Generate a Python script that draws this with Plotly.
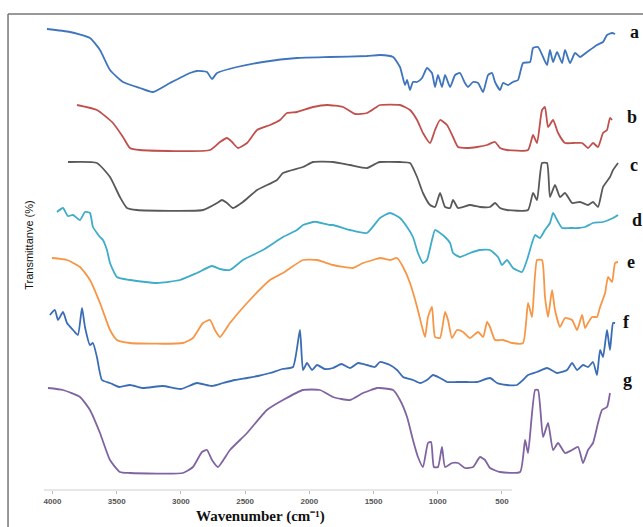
import plotly.graph_objects as go

# Wavenumber (cm^-1) and stacked transmittance (arbitrary units)
a_x = [4043,3864,3708,3630,3552,3451,3319,3217,3085,2929,2875,2797,2758,2719,2563,2361,2096,1839,1551,
       1450,1348,1294,1255,1239,1216,1193,1161,1122,1084,1045,1021,998,967,943,904,865,827,788,764,725,686,647,608,577,554,515,492,453,414,375,336,281,258,219,180,149,126,102,71,32,9,-30,-69,-108,-163,-240,-287,-318,-357,-381]
a_y = [461,458,452,440,420,408,402,398,407,417,419,418,411,417,423,428,432,433,434,
       435,433,423,405,410,400,408,408,412,422,417,403,415,403,415,403,415,417,407,403,408,407,398,415,417,408,400,407,405,408,410,427,428,442,443,433,425,440,428,438,427,440,427,437,433,438,445,448,455,457,456]

b_x = [3809,3654,3529,3451,3397,3319,2773,2696,2641,2602,2555,2485,2407,2306,2228,2174,2096,1971,1862,1738,1644,1551,1488,
       1450,1294,1216,1161,1115,1060,1021,982,928,881,842,772,694,616,554,515,461,297,258,227,188,165,141,102,63,9,-54,-124,-170,-209,-248,-287,-318,-341,-357]
b_y = [385,380,367,353,342,340,340,348,352,348,342,347,360,365,370,377,378,383,385,383,376,377,382,
       385,385,380,370,357,347,360,370,365,353,343,342,343,345,348,342,340,340,355,347,380,383,363,370,357,347,347,347,342,347,343,357,360,372,370]

c_x = [3879,3654,3552,3475,3420,3342,2828,2719,2680,2641,2594,2517,2407,2252,2205,2049,1971,1816,1683,1551,1473,
       1450,1294,1216,1161,1115,1060,1021,982,943,904,881,842,749,671,593,554,515,461,297,258,227,188,149,126,87,48,9,-46,-108,-170,-209,-248,-287,-341,-365,-404]
c_y = [328,327,313,293,282,280,280,287,290,287,282,288,300,310,317,323,328,328,325,322,327,
       328,328,327,313,297,285,283,297,283,282,290,282,285,283,283,287,282,280,280,297,290,327,327,293,305,293,297,287,288,285,288,283,303,313,320,327]

d_x = [3965,3918,3880,3840,3786,3747,3708,3685,3654,3630,3607,3576,3552,3498,3397,3186,3007,2875,2758,2696,2618,2517,2361,2205,2096,2049,1971,1940,1839,1816,1683,1551,
       1450,1372,1294,1239,1193,1154,1115,1084,1045,1021,982,943,904,881,827,749,671,593,531,500,461,414,344,305,266,242,204,165,126,102,71,32,-30,-93,-147,-209,-287,-365,-404]
d_y = [278,282,274,275,270,278,277,263,257,253,250,240,227,213,210,207,210,217,224,221,220,230,240,253,260,265,268,268,265,265,260,257,
       272,277,272,263,253,237,227,230,250,260,257,253,247,237,233,237,240,240,233,225,230,222,218,230,247,255,252,260,267,277,270,262,262,262,263,267,268,272,275]

e_x = [4004,3887,3786,3708,3630,3552,3498,3397,2984,2906,2828,2773,2735,2696,2618,2485,2306,2205,2049,1940,1816,1660,1582,1504,
       1450,1372,1317,1270,1216,1161,1122,1099,1076,1045,1021,982,943,920,889,850,803,749,686,647,616,593,554,492,422,336,297,266,227,188,165,141,110,87,48,9,-46,-85,-124,-147,-170,-202,-240,-264,-303,-326,-357,-381,-404]
e_y = [232,230,223,210,187,160,150,147,147,152,167,170,160,153,167,187,210,217,230,230,225,222,227,230,
       232,230,232,223,207,183,163,153,173,183,153,152,178,170,152,160,158,152,158,153,168,163,150,150,147,147,187,173,230,230,193,173,200,180,163,172,170,160,175,162,167,173,173,183,197,213,208,227,228]

f_x = [4020,3981,3957,3918,3887,3840,3802,3770,3747,3708,3685,3654,3615,3552,3480,3397,3300,3140,3000,2875,2760,2672,2580,2485,2400,2306,2210,2127,2073,2049,2018,1979,1940,1880,1816,1750,1683,1620,1551,1490,
       1450,1372,1317,1270,1193,1138,1084,1037,982,928,850,772,694,593,538,461,383,336,297,227,149,71,-7,-46,-85,-131,-170,-209,-240,-264,-287,-318,-341,-365,-381]
f_y = [175,180,170,178,167,160,155,182,163,145,147,133,110,107,103,105,102,104,101,107,104,107,110,112,114,117,121,123,160,120,127,120,125,121,122,126,122,127,125,123,
       128,125,120,113,110,107,110,115,112,108,108,108,108,112,107,105,105,110,115,118,122,117,120,127,120,125,123,128,115,140,133,160,140,167,167]

g_x = [4035,3918,3786,3708,3630,3552,3475,3397,2984,2906,2836,2797,2758,2711,2618,2485,2330,2205,2049,1917,1816,1683,1582,1473,
       1450,1348,1294,1239,1193,1154,1115,1076,1052,1030,998,967,943,889,842,788,725,671,632,593,515,359,320,297,242,219,180,141,102,63,9,-46,-93,-131,-170,-209,-248,-279,-318,-341]
g_y = [102,100,93,80,57,30,18,17,17,23,38,40,30,23,40,57,80,90,100,100,93,90,97,102,
       102,100,90,73,50,33,23,47,48,23,23,43,23,27,27,22,23,33,30,22,18,18,50,37,100,100,53,67,40,47,37,40,43,27,40,47,67,80,83,97]

series = [
    ("a", a_x, a_y, "#3F75BC"),
    ("b", b_x, b_y, "#C0504D"),
    ("c", c_x, c_y, "#595959"),
    ("d", d_x, d_y, "#3FACC9"),
    ("e", e_x, e_y, "#F79646"),
    ("f", f_x, f_y, "#3A6DB5"),
    ("g", g_x, g_y, "#8064A2"),
]

tick_vals = [4000, 3500, 3000, 2500, 2000, 1500, 1000, 500]
tick_text = [str(v) for v in tick_vals]

fig = go.Figure()
for name, xs, ys, col in series:
    fig.add_trace(go.Scatter(x=xs, y=ys, mode="lines", name=name,
                             line=dict(color=col, width=1.8, shape="spline", smoothing=0.5),
                             hoverinfo="skip"))

# series labels at right end
label_y = [458, 373, 325, 270, 228, 168, 110]
label_x = [-482, -460, -482, -497, -460, -430, -430]
for (name, _, _, _), lx, ly in zip(series, label_x, label_y):
    fig.add_annotation(x=lx, y=ly, xref="x", yref="y", text=name, showarrow=False,
                       font=dict(family="Liberation Serif", size=18, color="#111", weight="bold"),
                       xanchor="left", yanchor="middle")

fig.add_annotation(x=0.369, y=-0.057, xref="paper", yref="paper",
                   text="Wavenumber (cm\u207b\u00b9)", showarrow=False,
                   font=dict(family="Liberation Serif", size=15, color="#111", weight="bold"),
                   xanchor="center", yanchor="middle")
fig.add_annotation(x=-0.027, y=0.52, xref="paper", yref="paper",
                   text="Transmittanve (%)", showarrow=False, textangle=-90,
                   font=dict(family="Liberation Sans", size=11, color="#111"),
                   xanchor="center", yanchor="middle")

# axis line (covers only the labelled range)
fig.add_shape(type="line", xref="x", yref="paper", x0=4066, x1=422, y0=0, y1=0,
              line=dict(color="#cfcfcf", width=1))
# outer frame
fig.add_shape(type="line", xref="paper", yref="paper", x0=-0.0614, x1=1.1, y0=1.0128, y1=1.0128,
              line=dict(color="#777", width=1.5))
fig.add_shape(type="line", xref="paper", yref="paper", x0=-0.0614, x1=-0.0614, y0=1.0128, y1=-0.2,
              line=dict(color="#777", width=1.5))

fig.update_layout(
    width=643, height=527,
    margin=dict(l=44, r=13, t=20, b=37),
    paper_bgcolor="white", plot_bgcolor="white",
    showlegend=False,
    xaxis=dict(range=[4066, -497], tickvals=tick_vals, ticktext=tick_text,
               showgrid=False, zeroline=False, showline=False,
               ticks="outside", ticklen=3, tickcolor="#bbb",
               tickfont=dict(family="Liberation Sans", size=8, color="#555", weight="bold")),
    yaxis=dict(range=[0, 470], visible=False),
)

fig.write_html("out.html")
